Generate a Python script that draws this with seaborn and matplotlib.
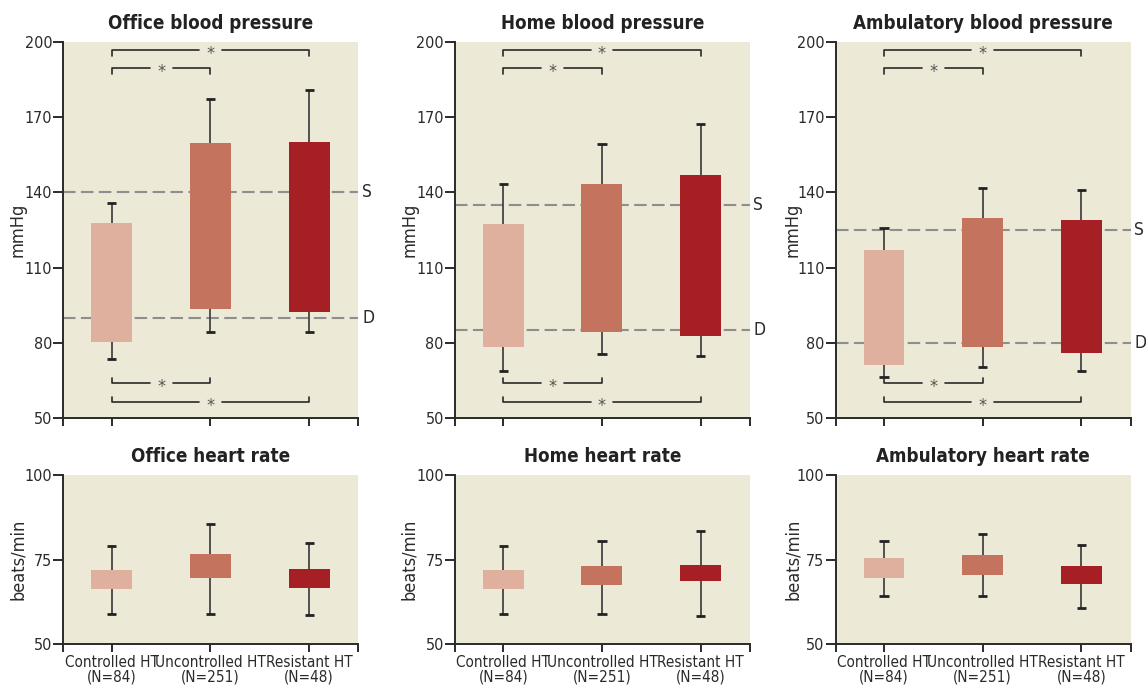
import numpy as np
import pandas as pd
import seaborn as sns
import matplotlib.pyplot as plt
import matplotlib.transforms as mtransforms
from matplotlib import font_manager

# Groupes et couleurs
groups = ['Controlled HT\n(N=84)', 'Uncontrolled HT\n(N=251)', 'Resistant HT\n(N=48)']
colors = ['#DFB09E', '#C4735F', '#A61F24']

# Pression artérielle : systolique moyenne (haut de barre), diastolique moyenne (bas de barre)
office_sys = [127.8, 159.5, 159.9]
office_sys_hi = [135.9, 177.2, 180.8]
office_dia = [80.5, 93.6, 92.4]
office_dia_lo = [73.6, 84.3, 84.3]

home_sys = [127.4, 143.3, 146.9]
home_sys_hi = [143.4, 159.3, 167.4]
home_dia = [78.5, 84.5, 82.9]
home_dia_lo = [69.0, 75.7, 74.8]

amb_sys = [117.0, 129.8, 129.0]
amb_sys_hi = [125.8, 141.7, 140.9]
amb_dia = [71.3, 78.5, 76.1]
amb_dia_lo = [66.5, 70.5, 68.8]

# Seuils S / D
office_thr = [140, 90]
home_thr = [135, 85]
amb_thr = [125, 80]

# Fréquence cardiaque : boîte (bas, haut) et moustaches (bas, haut)
office_hr_lo = [66.4, 69.7, 66.7]
office_hr_hi = [72.0, 76.7, 72.2]
office_hr_wlo = [59.1, 59.1, 58.8]
office_hr_whi = [79.0, 85.5, 79.9]

home_hr_lo = [66.4, 67.6, 68.8]
home_hr_hi = [72.0, 73.1, 73.4]
home_hr_wlo = [59.1, 59.1, 58.5]
home_hr_whi = [79.0, 80.6, 83.6]

amb_hr_lo = [69.7, 70.6, 67.9]
amb_hr_hi = [75.5, 76.3, 73.1]
amb_hr_wlo = [64.4, 64.4, 60.7]
amb_hr_whi = [80.6, 82.6, 79.3]

bp_ticks = [50, 80, 110, 140, 170, 200]
hr_ticks = [50, 75, 100]

# Comparaisons significatives (i, j, y, direction)
sig_top = [(0, 2, 196.7, -1), (0, 1, 189.4, -1)]
sig_bottom = [(0, 1, 63.9, 1), (0, 2, 56.3, 1)]

BG = '#ECE9D6'
DARK = '#2A2A2A'

sns.set_style('ticks')

# Choix de la police la plus étroite disponible
order = ['ultra-condensed', 'extra-condensed', 'condensed', 'semi-condensed']
names = {f.name for f in font_manager.fontManager.ttflist}
narrow = [f for f in font_manager.fontManager.ttflist if f.stretch in order]
narrow.sort(key=lambda f: order.index(f.stretch))
if 'Liberation Sans Narrow' in names:
    plt.rcParams['font.family'] = ['Liberation Sans Narrow', 'DejaVu Sans']
elif narrow:
    plt.rcParams['font.family'] = [narrow[0].name, 'DejaVu Sans']
    plt.rcParams['font.stretch'] = narrow[0].stretch
else:
    plt.rcParams['font.family'] = ['Liberation Sans', 'DejaVu Sans']
plt.rcParams['axes.linewidth'] = 1.4
plt.rcParams['xtick.major.width'] = 1.4
plt.rcParams['ytick.major.width'] = 1.4


def draw_panel(ax, lo, hi, wlo, whi, ylim, yticks, ylabel, title, xlabels, label_x):
    ax.set_facecolor(BG)
    df = pd.DataFrame({'group': groups, 'hi': hi})
    sns.barplot(data=df, x='group', y='hi', hue='group', palette=colors,
                saturation=1, width=0.415, errorbar=None, legend=False, ax=ax)
    # barres flottantes : du bas au haut
    for patch, b, t in zip(ax.patches, lo, hi):
        patch.set_y(b)
        patch.set_height(t - b)
        patch.set_zorder(2)
        patch.set_linewidth(0)
    x = np.arange(len(groups))
    ax.vlines(x, wlo, whi, color='#444444', lw=1.3, zorder=1)
    ax.hlines(whi, x - 0.047, x + 0.047, color='#222222', lw=2, zorder=3)
    ax.hlines(wlo, x - 0.047, x + 0.047, color='#222222', lw=2, zorder=3)

    ax.set_xlim(-0.49, 2.5)
    ax.set_ylim(*ylim)
    ax.set_yticks(yticks)
    ax.set_xticks([-0.49, 0, 1, 2, 2.5])
    if xlabels:
        ax.set_xticklabels([''] + groups + [''], fontsize=11, linespacing=0.95)
    else:
        ax.set_xticklabels([''] * 5)
    ax.tick_params(axis='y', length=7, labelsize=11.5, colors=DARK, pad=1)
    ax.tick_params(axis='x', length=6, colors=DARK, pad=2)
    ax.set_xlabel('')
    ax.set_ylabel(ylabel, fontsize=13, color=DARK)
    ax.yaxis.set_label_coords(label_x, 0.5)
    ax.set_title(title, fontsize=13.5, fontweight='bold', pad=9, color='#222222')
    for s in ['left', 'bottom']:
        ax.spines[s].set_color(DARK)
    sns.despine(ax=ax)


def ref_lines(ax, thr):
    trans = mtransforms.blended_transform_factory(ax.transAxes, ax.transData)
    for val, lab in zip(thr, ['S', 'D']):
        ax.axhline(val, color='#8E8E8E', lw=1.5, ls=(0, (6, 2.6)), zorder=0.5)
        ax.text(1.012, val, lab, transform=trans, ha='left', va='center',
                fontsize=12.5, color=DARK, clip_on=False)


def brackets(ax, sigs):
    gap = 0.115
    for i, j, y, d in sigs:
        m = (i + j) / 2
        tick = 2.3 * d
        ax.plot([i, i, m - gap], [y + tick, y, y], color=DARK, lw=1.2, zorder=3)
        ax.plot([m + gap, j, j], [y, y, y + tick], color=DARK, lw=1.2, zorder=3)
        ax.text(m, y - 1.6, '*', ha='center', va='center', fontsize=13,
                color='#555555', zorder=4)


fig = plt.figure(figsize=(11.46, 6.9), dpi=100)
lefts = [0.0554, 0.397, 0.7292]
label_xs = [-0.125, -0.125, -0.115]
w = 0.2574
top_axes = [fig.add_axes([l, 0.3938, w, 0.5458]) for l in lefts]
bot_axes = [fig.add_axes([l, 0.0662, w, 0.2454]) for l in lefts]

bp_data = [
    (office_dia, office_sys, office_dia_lo, office_sys_hi, office_thr, 'Office blood pressure'),
    (home_dia, home_sys, home_dia_lo, home_sys_hi, home_thr, 'Home blood pressure'),
    (amb_dia, amb_sys, amb_dia_lo, amb_sys_hi, amb_thr, 'Ambulatory blood pressure'),
]
for ax, lx, (lo, hi, wlo, whi, thr, title) in zip(top_axes, label_xs, bp_data):
    draw_panel(ax, lo, hi, wlo, whi, (50, 200), bp_ticks, 'mmHg', title, False, lx)
    ref_lines(ax, thr)
    brackets(ax, sig_top + sig_bottom)

hr_data = [
    (office_hr_lo, office_hr_hi, office_hr_wlo, office_hr_whi, 'Office heart rate'),
    (home_hr_lo, home_hr_hi, home_hr_wlo, home_hr_whi, 'Home heart rate'),
    (amb_hr_lo, amb_hr_hi, amb_hr_wlo, amb_hr_whi, 'Ambulatory heart rate'),
]
for ax, lx, (lo, hi, wlo, whi, title) in zip(bot_axes, label_xs, hr_data):
    draw_panel(ax, lo, hi, wlo, whi, (50, 100), hr_ticks, 'beats/min', title, True, lx)

fig.savefig('out.png', dpi=100, facecolor='white')
